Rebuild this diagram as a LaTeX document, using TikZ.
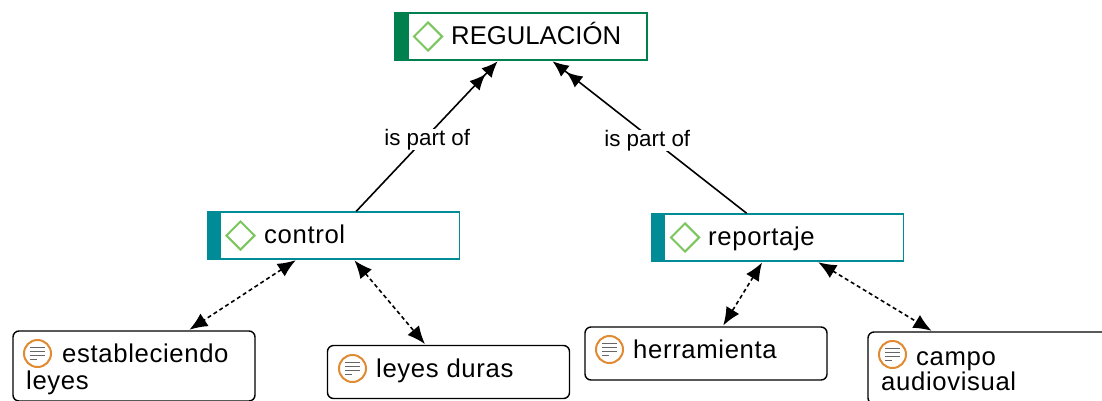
\documentclass[tikz,border=0pt]{standalone}
\usepackage{fontspec}
\setmainfont{Liberation Sans}
\usetikzlibrary{arrows.meta,shapes.geometric}
\definecolor{darkgreen}{HTML}{00804F}
\definecolor{teal2}{HTML}{008C96}
\definecolor{leaf}{HTML}{7CC65E}
\definecolor{icon}{HTML}{E08A32}
\definecolor{lines}{HTML}{666666}
\tikzset{
  x=1pt,y=-1pt,
  boxbase/.style={draw=#1,line width=1.3pt,rectangle,minimum height=47pt,minimum width=252pt,inner sep=0pt,fill=white},
  txt/.style={font=\fontsize{25.7}{27}\selectfont\addfontfeature{LetterSpace=2.5},inner sep=0pt,anchor=base west,text=black},
  ttl/.style={font=\fontsize{25.7}{27}\selectfont,inner sep=0pt,anchor=base west,text=black},
  quotebox/.style={draw=black,line width=1.4pt,rounded corners=6pt,fill=white,minimum width=242pt,inner sep=0pt},
  rel/.style={line width=1.6pt,-{Latex[length=16pt,width=14pt,sep=1.5pt]Latex[length=16pt,width=14pt]},shorten >=1pt},
  assoc/.style={line width=1.6pt,dash pattern=on 4pt off 3pt,{Latex[length=18pt,width=15pt]}-{Latex[length=18pt,width=15pt]},shorten >=1pt,shorten <=1pt},
  lab/.style={font=\fontsize{22.4}{24}\selectfont,fill=white,inner xsep=1pt,inner ysep=0pt},
  dia/.style={diamond,draw=leaf,line width=2pt,minimum width=29pt,minimum height=29pt,inner sep=0pt},
  ring/.style={circle,draw=icon,line width=2pt,minimum size=27pt,inner sep=0pt,fill=white},
  bar/.style={fill=#1,draw=none,inner sep=0pt,minimum width=14pt,minimum height=47pt},
}
\newcommand{\noteicon}[2]{%
  \node[ring] (#2) at (#1) {};
  \foreach \dy/\w in {6/15,2/15,-2/15,-6/7}{
    \draw[lines,line width=1.8pt] ([xshift=-7.5pt,yshift=\dy pt]#2.center) -- ++(\w,0);
  }
}
\begin{document}
\begin{tikzpicture}
\useasboundingbox (0,0) rectangle (1102,400);
% concept boxes
\node[boxbase=darkgreen] (reg) at (521,36.5) {};
\node[bar=darkgreen,anchor=west] (regbar) at (reg.west) {};
\node[dia] (regd) at (428,36.5) {};
\node[ttl] (regt) at (451,44) {REGULACIÓN};
\node[boxbase=teal2] (ctl) at (333.5,235.5) {};
\node[bar=teal2,anchor=west] (ctlbar) at (ctl.west) {};
\node[dia] (ctld) at (240.5,235.5) {};
\node[txt] (ctlt) at (264,243) {control};
\node[boxbase=teal2] (rep) at (777.5,237.5) {};
\node[bar=teal2,anchor=west] (repbar) at (rep.west) {};
\node[dia] (repd) at (685,237.5) {};
\node[txt] (rept) at (708,245) {reportaje};
% quotation boxes
\node[quotebox,minimum height=70pt] (est) at (134,366) {};
\noteicon{37.5,353.5}{esti}
\node[txt] (estt) at (62,362) {estableciendo};
\node[txt] (estu) at (26,389) {leyes};
\node[quotebox,minimum height=53pt] (ley) at (448.5,372) {};
\noteicon{352.5,368.5}{leyi}
\node[txt] (leyt) at (376,377) {leyes duras};
\node[quotebox,minimum height=53pt] (her) at (706,353.5) {};
\noteicon{609.5,349.5}{heri}
\node[txt] (hert) at (633,358) {herramienta};
\node[quotebox,minimum height=72pt,minimum width=250pt] (cam) at (993,368) {};
\noteicon{892.5,354.5}{cami}
\node[txt] (camt) at (916,365) {campo};
\node[txt] (camu) at (881,390) {audiovisual};
% connectors
\draw[rel] (ctl) -- node[lab,pos=.5,yshift=-3.5pt] (l1) {is part of} (reg);
\draw[rel] (rep) -- node[lab,pos=.5,yshift=-3.5pt,xshift=-2pt] (l2) {is part of} (reg);
\draw[assoc] (ctl) -- (est);
\draw[assoc] (ctl) -- (ley);
\draw[assoc] (rep) -- (her);
\draw[assoc] (rep) -- (cam);
\end{tikzpicture}
\end{document}
